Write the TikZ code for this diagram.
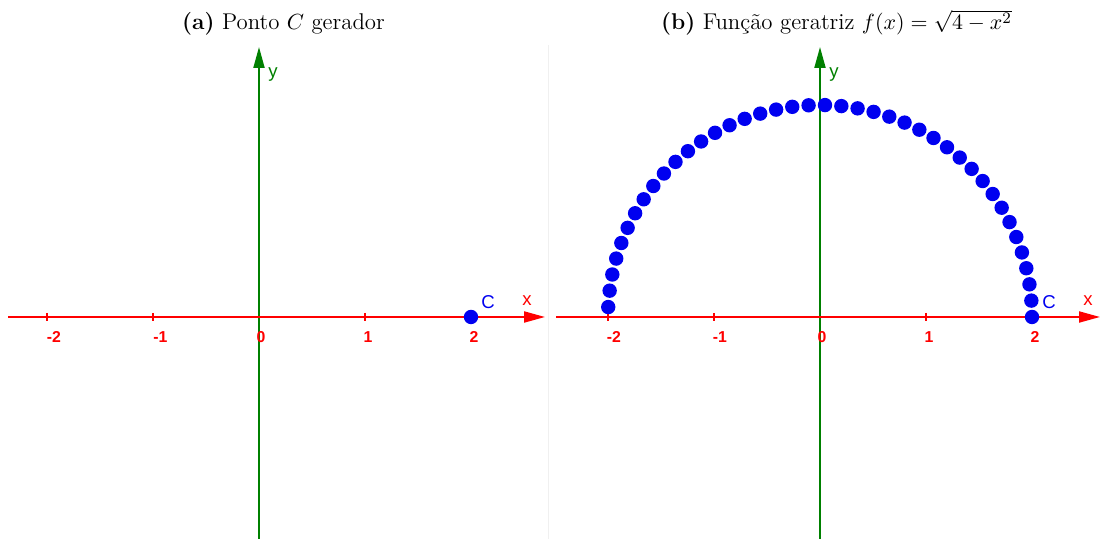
\documentclass[tikz,border=0pt]{standalone}
\usepackage{fontspec}
\newfontfamily\ggb{Liberation Sans}
\usetikzlibrary{arrows.meta}
\definecolor{axred}{RGB}{255,0,0}
\definecolor{axgreen}{RGB}{0,128,0}
\definecolor{ptblue}{RGB}{0,0,240}
\begin{document}
\begin{tikzpicture}[x=0.5pt,y=-0.5pt,
  axis/.style={line width=1pt,-{Triangle[length=10.5pt,width=5.5pt]}},
  xaxis/.style={axis,draw=axred,fill=axred},
  yaxis/.style={axis,draw=axgreen,fill=axgreen},
  tickmark/.style={axred,line width=1pt},
  ticklab/.style={text=axred,font={\ggb\bfseries\fontsize{7.9}{9}\selectfont},inner sep=0pt},
  axlab/.style={font={\ggb\fontsize{9.3}{10}\selectfont},inner sep=0pt},
  ptdot/.style={fill=ptblue},
  titlelab/.style={font={\fontsize{11.4}{13}\selectfont},inner sep=0pt,anchor=base}]
\useasboundingbox (0,0) rectangle (1100,539);
% separator
\draw[black!6,line width=0.5pt] (548,45) -- (548,539);

% ---------- panel (a)
\node[titlelab] (ta) at (283.5,30) {\textbf{(a)} Ponto $C$ gerador};
\coordinate (axL) at (8,317);
\coordinate (axR) at (545,317);
\coordinate (ayB) at (259,539);
\coordinate (ayT) at (259,47);
\foreach \t in {47,153,365,471} \draw[tickmark] (\t,313) -- (\t,321);
\draw[yaxis] (ayB) -- (ayT);
\draw[xaxis] (axL) -- (axR);
\node[ticklab] (la1) at (54,337) {-2};
\node[ticklab] (la2) at (160.5,337) {-1};
\node[ticklab] (la3) at (261,337) {0};
\node[ticklab] (la4) at (368,337) {1};
\node[ticklab] (la5) at (474,337) {2};
\node[axlab,text=axred] (xa) at (527,301) {x};
\node[axlab,text=axgreen] (ya) at (273,75) {y};
\fill[ptdot] (471,317) circle[radius=3.6pt];
\node[axlab,text=ptblue] (ca) at (488,302) {C};

% ---------- panel (b)
\node[titlelab] (tb) at (836.5,30) {\textbf{(b)} Função geratriz $f(x)=\sqrt{4-x^2}$};
\coordinate (bxL) at (556,317);
\coordinate (bxR) at (1100,317);
\coordinate (byB) at (820,539);
\coordinate (byT) at (820,47);
\foreach \t in {608,714,926,1032} \draw[tickmark] (\t,313) -- (\t,321);
\draw[yaxis] (byB) -- (byT);
\draw[xaxis] (bxL) -- (bxR);
\node[ticklab] (lb1) at (614,337) {-2};
\node[ticklab] (lb2) at (720,337) {-1};
\node[ticklab] (lb3) at (822,337) {0};
\node[ticklab] (lb4) at (929,337) {1};
\node[ticklab] (lb5) at (1035,337) {2};
\node[axlab,text=axred] (xb) at (1088,301) {x};
\node[axlab,text=axgreen] (yb) at (834,75) {y};
\foreach \k in {0,...,40}
  \fill[ptdot] ({820+212*cos(\k*4.4325)},{317-212*sin(\k*4.4325)}) circle[radius=3.6pt];
\node[axlab,text=ptblue] (cb) at (1049,302) {C};
\end{tikzpicture}
\end{document}
